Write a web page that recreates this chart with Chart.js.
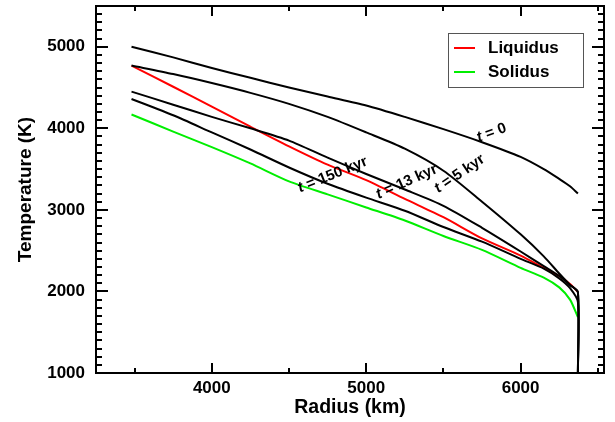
<!DOCTYPE html>
<html>
<head>
<meta charset="utf-8">
<script src="https://cdn.jsdelivr.net/npm/chart.js@4.4.0/dist/chart.umd.min.js"></script>
<style>
  html, body { margin: 0; padding: 0; background: #fff; }
  #wrap { width: 615px; height: 422px; }
</style>
</head>
<body>
<div id="wrap"><canvas id="profileChart" width="615" height="422"></canvas></div>
<script>
// radius grid (km), core-mantle boundary up to the surface
const radiusKm = [3480, 3750, 4000, 4250, 4500, 4750, 5000, 5250, 5500, 5750, 6000, 6150, 6250, 6320, 6371];

// melting curves (K)
const liquidusK = [4770, 4510, 4265, 4020, 3780, 3555, 3365, 3135, 2910, 2650, 2440, 2290, 2190, 2090, 1995];
const solidusK  = [4170, 3960, 3770, 3570, 3350, 3190, 3030, 2870, 2680, 2510, 2290, 2170, 2050, 1900, 1685];

// thermal profiles (K) at successive times
const profileT0   = [5000, 4870, 4740, 4620, 4500, 4390, 4280, 4140, 3990, 3830, 3650, 3500, 3380, 3290, 3200];
const profileT5   = [4770, 4665, 4555, 4435, 4300, 4140, 3950, 3750, 3480, 3100, 2700, 2430, 2220, 2080, 1990];
const profileT13  = [4450, 4290, 4140, 4000, 3850, 3640, 3440, 3250, 3050, 2780, 2490, 2310, 2190, 2080, 1990];
const profileT150 = [4360, 4160, 3950, 3740, 3520, 3320, 3150, 2990, 2790, 2610, 2400, 2280, 2160, 2040, 1870];

// cooled profiles drop to the surface temperature at the top
const surfaceRadius = 6371;
const surfaceTemp = 1000;

const xTicks = [4000, 5000, 6000];
const yTicks = [1000, 2000, 3000, 4000, 5000];
const xMinorStep = 500;
const yMinorStep = 100;

const FONT = '"Liberation Sans", Arial, Helvetica, sans-serif';

function toPoints(temps, dropToSurface) {
  const pts = radiusKm.map((r, i) => ({ x: r, y: temps[i] }));
  if (dropToSurface) pts.push({ x: surfaceRadius, y: surfaceTemp });
  return pts;
}

// time labels written along the profiles
const curveLabels = [
  { text: ' = 0',       r: 5812, T: 3945, angle: -20 },
  { text: ' = 5 kyr',   r: 5605, T: 3442, angle: -34 },
  { text: ' = 13 kyr',  r: 5262, T: 3344, angle: -24 },
  { text: ' = 150 kyr', r: 4783, T: 3429, angle: -22 }
];

// box frame with inward ticks on all four sides
const frameTicks = {
  id: 'frameTicks',
  afterDraw(chart) {
    const { ctx, chartArea: a, scales: { x, y } } = chart;
    ctx.save();
    ctx.strokeStyle = '#000';
    ctx.lineWidth = 2;
    ctx.strokeRect(a.left, a.top, a.right - a.left, a.bottom - a.top);
    ctx.beginPath();
    for (let v = Math.ceil(y.min / yMinorStep) * yMinorStep; v <= y.max; v += yMinorStep) {
      const py = Math.round(y.getPixelForValue(v));
      const len = v % 1000 === 0 ? 12 : 6;
      ctx.moveTo(a.left, py); ctx.lineTo(a.left + len, py);
      ctx.moveTo(a.right, py); ctx.lineTo(a.right - len, py);
    }
    for (let v = Math.ceil(x.min / xMinorStep) * xMinorStep; v <= x.max; v += xMinorStep) {
      const px = Math.round(x.getPixelForValue(v));
      const len = v % 1000 === 0 ? 10 : 5;
      ctx.moveTo(px, a.bottom); ctx.lineTo(px, a.bottom - len);
      ctx.moveTo(px, a.top); ctx.lineTo(px, a.top + len);
    }
    ctx.stroke();
    ctx.restore();
  }
};

// legend box in the upper right corner
const boxLegend = {
  id: 'boxLegend',
  afterDraw(chart) {
    const { ctx, chartArea: a } = chart;
    const items = chart.data.datasets.filter(d => d.inLegend);
    const left = a.right - 156, top = a.top + 27;
    ctx.save();
    ctx.strokeStyle = '#555';
    ctx.lineWidth = 1;
    ctx.strokeRect(left + 0.5, top + 0.5, 135, 54);
    ctx.font = 'bold 17px ' + FONT;
    ctx.textBaseline = 'middle';
    ctx.fillStyle = '#000';
    items.forEach((d, i) => {
      const cy = top + 15 + i * 24;
      ctx.strokeStyle = d.borderColor;
      ctx.lineWidth = 2;
      ctx.beginPath();
      ctx.moveTo(left + 6, cy);
      ctx.lineTo(left + 27, cy);
      ctx.stroke();
      ctx.fillText(d.label, left + 40, cy);
    });
    ctx.restore();
  }
};

// rotated "t = ..." labels
const timeLabels = {
  id: 'timeLabels',
  afterDatasetsDraw(chart) {
    const { ctx, scales: { x, y } } = chart;
    ctx.save();
    ctx.fillStyle = '#000';
    ctx.textBaseline = 'middle';
    curveLabels.forEach(l => {
      const italic = 'italic bold 15px ' + FONT;
      const bold = 'bold 15px ' + FONT;
      ctx.font = italic;
      const wt = ctx.measureText('t').width;
      ctx.font = bold;
      const wr = ctx.measureText(l.text).width;
      ctx.save();
      ctx.translate(x.getPixelForValue(l.r), y.getPixelForValue(l.T));
      ctx.rotate(l.angle * Math.PI / 180);
      const x0 = -(wt + wr) / 2;
      ctx.font = italic;
      ctx.fillText('t', x0, 0);
      ctx.font = bold;
      ctx.fillText(l.text, x0 + wt, 0);
      ctx.restore();
    });
    ctx.restore();
  }
};

const lineStyle = { borderWidth: 2, pointRadius: 0, tension: 0.25, fill: false };

new Chart(document.getElementById('profileChart'), {
  type: 'line',
  data: {
    datasets: [
      { label: 't = 0', data: toPoints(profileT0, false), borderColor: '#000', ...lineStyle },
      { label: 't = 5 kyr', data: toPoints(profileT5, true), borderColor: '#000', ...lineStyle },
      { label: 't = 13 kyr', data: toPoints(profileT13, true), borderColor: '#000', ...lineStyle },
      { label: 't = 150 kyr', data: toPoints(profileT150, true), borderColor: '#000', ...lineStyle },
      { label: 'Liquidus', data: toPoints(liquidusK, false), borderColor: '#ff0000', inLegend: true, ...lineStyle },
      { label: 'Solidus', data: toPoints(solidusK, false), borderColor: '#00ee00', inLegend: true, ...lineStyle }
    ]
  },
  options: {
    responsive: false,
    animation: false,
    devicePixelRatio: 1,
    layout: { padding: { top: 6, right: 11, left: 0, bottom: 0 } },
    plugins: {
      legend: { display: false },
      tooltip: { enabled: false }
    },
    scales: {
      x: {
        type: 'linear',
        min: 3250,
        max: 6540,
        afterFit: s => { s.height = 49; s.paddingLeft = 0; s.paddingRight = 0; },
        afterBuildTicks: s => { s.ticks = xTicks.map(v => ({ value: v })); },
        grid: { display: false, drawTicks: false },
        border: { display: false },
        ticks: {
          color: '#000',
          padding: 5,
          font: { family: FONT, size: 17, weight: 'bold' },
          callback: v => String(v)
        },
        title: {
          display: true,
          text: 'Radius (km)',
          color: '#000',
          padding: { top: 0, bottom: 3 },
          font: { family: FONT, size: 19.5, weight: 'bold' }
        }
      },
      y: {
        type: 'linear',
        min: 1000,
        max: 5500,
        afterFit: s => { s.width = 96; s.paddingTop = 0; s.paddingBottom = 0; },
        afterBuildTicks: s => { s.ticks = yTicks.map(v => ({ value: v })); },
        grid: { display: false, drawTicks: false },
        border: { display: false },
        ticks: {
          color: '#000',
          padding: 11,
          font: { family: FONT, size: 17, weight: 'bold' },
          callback: v => String(v)
        },
        title: {
          display: true,
          text: 'Temperature (K)',
          color: '#000',
          padding: { top: 14, bottom: 0 },
          font: { family: FONT, size: 19, weight: 'bold' }
        }
      }
    }
  },
  plugins: [frameTicks, timeLabels, boxLegend]
});
</script>
</body>
</html>
